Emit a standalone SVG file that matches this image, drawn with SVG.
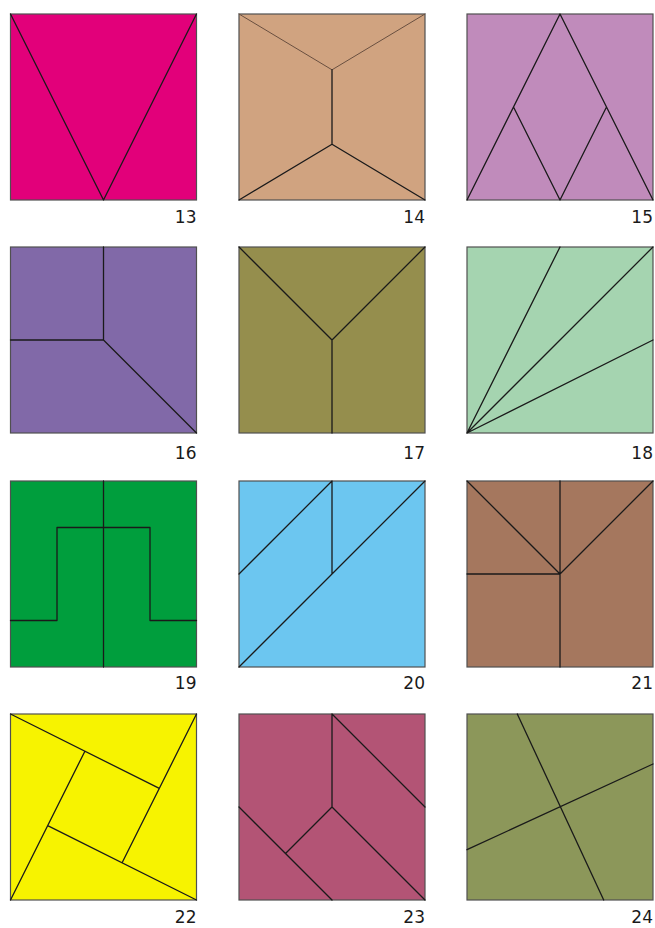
<svg xmlns="http://www.w3.org/2000/svg" width="655" height="928" viewBox="0 0 655 928">
<style>
.sq{stroke:#505050;stroke-width:1.2}
.ln{stroke:#1a1a1a;stroke-width:1.3;fill:none;stroke-linecap:round;stroke-linejoin:round}
.lt{stroke:#6a5040;stroke-width:1}
.lb{font-family:"DejaVu Sans","Liberation Sans",sans-serif;font-size:17px;fill:#1a1a1a;text-anchor:end}
</style>
<rect width="655" height="928" fill="#ffffff"/>
<g id="sq13" transform="translate(10.5,14)">
<rect class="sq" width="186" height="186" fill="#E2007A"/>
<path class="ln" d="M0,0 L93,186 L186,0"/>
<text class="lb" x="186" y="209">13</text>
</g>
<g id="sq14" transform="translate(239,14)">
<rect class="sq" width="186" height="186" fill="#D0A380"/>
<path class="ln lt" d="M0,0 L93,55.8 L186,0"/>
<path class="ln" d="M93,55.8 L93,130.2 M0,186 L93,130.2 L186,186"/>
<text class="lb" x="186" y="209">14</text>
</g>
<g id="sq15" transform="translate(467,14)">
<rect class="sq" width="186" height="186" fill="#C08BBB"/>
<path class="ln" d="M0,186 L93,0 L186,186 M46.5,93 L93,186 L139.5,93"/>
<text class="lb" x="186" y="209">15</text>
</g>
<g id="sq16" transform="translate(10.5,247)">
<rect class="sq" width="186" height="186" fill="#8169A8"/>
<path class="ln" d="M93,0 L93,93 L0,93 M93,93 L186,186"/>
<text class="lb" x="186" y="212">16</text>
</g>
<g id="sq17" transform="translate(239,247)">
<rect class="sq" width="186" height="186" fill="#958E4D"/>
<path class="ln" d="M0,0 L93,93 L186,0 M93,93 L93,186"/>
<text class="lb" x="186" y="212">17</text>
</g>
<g id="sq18" transform="translate(467,247)">
<rect class="sq" width="186" height="186" fill="#A5D4B0"/>
<path class="ln" d="M0,186 L93,0 M0,186 L186,0 M0,186 L186,93"/>
<text class="lb" x="186" y="212">18</text>
</g>
<g id="sq19" transform="translate(10.5,481)">
<rect class="sq" width="186" height="186" fill="#009E3D"/>
<path class="ln" d="M93,0 L93,186 M0,139.5 L46.5,139.5 L46.5,46.5 L139.5,46.5 L139.5,139.5 L186,139.5"/>
<text class="lb" x="186" y="208">19</text>
</g>
<g id="sq20" transform="translate(239,481)">
<rect class="sq" width="186" height="186" fill="#6CC6F0"/>
<path class="ln" d="M0,186 L186,0 M93,0 L93,93 M0,93 L93,0"/>
<text class="lb" x="186" y="208">20</text>
</g>
<g id="sq21" transform="translate(467,481)">
<rect class="sq" width="186" height="186" fill="#A5775E"/>
<path class="ln" d="M93,0 L93,186 M0,93 L93,93 M0,0 L93,93 L186,0"/>
<text class="lb" x="186" y="208">21</text>
</g>
<g id="sq22" transform="translate(10.5,714)">
<rect class="sq" width="186" height="186" fill="#F7F300"/>
<path class="ln" d="M0,0 L148.8,74.4 M186,0 L111.6,148.8 M186,186 L37.2,111.6 M0,186 L74.4,37.2"/>
<text class="lb" x="186" y="208.5">22</text>
</g>
<g id="sq23" transform="translate(239,714)">
<rect class="sq" width="186" height="186" fill="#B35475"/>
<path class="ln" d="M93,0 L93,93 M93,0 L186,93 M93,93 L186,186 M0,93 L93,186 M93,93 L46.5,139.5"/>
<text class="lb" x="186" y="208.5">23</text>
</g>
<g id="sq24" transform="translate(467,714)">
<rect class="sq" width="186" height="186" fill="#8C975A"/>
<path class="ln" d="M50.3,0 L136.7,186 M0,135.7 L186,50"/>
<text class="lb" x="186" y="208.5">24</text>
</g>
</svg>
